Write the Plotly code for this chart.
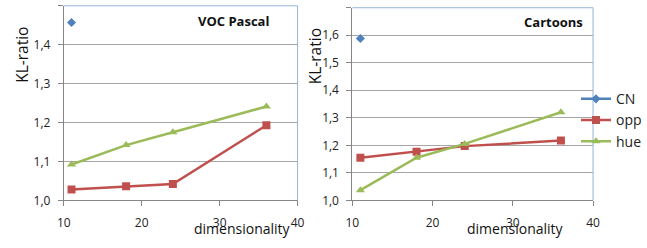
import plotly.graph_objects as go

dims = [11, 18, 24, 36]
cn_dim = [11]

voc_cn = [1.457]
voc_opp = [1.028, 1.036, 1.042, 1.193]
voc_hue = [1.092, 1.142, 1.175, 1.241]

cart_cn = [1.588]
cart_opp = [1.155, 1.177, 1.197, 1.217]
cart_hue = [1.037, 1.155, 1.205, 1.320]

x_ticks = [10, 20, 30, 40]
voc_yticks = [1.0, 1.1, 1.2, 1.3, 1.4, 1.5]
cart_yticks = [1.0, 1.1, 1.2, 1.3, 1.4, 1.5, 1.6, 1.7]

C_CN = "#4F81BD"
C_OPP = "#C0504D"
C_HUE = "#9BBB59"
FONT = "Open Sans"
W, H = 647, 248

fig = go.Figure()

def add_series(xa, ya, cn, opp, hue, show):
    fig.add_trace(go.Scatter(x=cn_dim, y=cn, name="CN", mode="lines+markers",
                             line=dict(color=C_CN, width=2.5),
                             marker=dict(symbol="diamond", size=7, color=C_CN),
                             xaxis=xa, yaxis=ya, showlegend=show))
    fig.add_trace(go.Scatter(x=dims, y=opp, name="opp", mode="lines+markers",
                             line=dict(color=C_OPP, width=2.5),
                             marker=dict(symbol="square", size=8, color=C_OPP),
                             xaxis=xa, yaxis=ya, showlegend=show))
    fig.add_trace(go.Scatter(x=dims, y=hue, name="hue", mode="lines+markers",
                             line=dict(color=C_HUE, width=2.5),
                             marker=dict(symbol="triangle-up", size=8, color=C_HUE),
                             xaxis=xa, yaxis=ya, showlegend=show))

add_series("x", "y", voc_cn, voc_opp, voc_hue, False)
add_series("x2", "y2", cart_cn, cart_opp, cart_hue, True)

axis_common = dict(showline=True, linecolor="#868686", linewidth=1,
                   ticks="outside", ticklen=5, tickcolor="#868686",
                   tickfont=dict(family=FONT, size=12, color="#222"),
                   zeroline=False)

fig.update_layout(
    width=W, height=H, margin=dict(l=0, r=0, t=0, b=0),
    paper_bgcolor="white", plot_bgcolor="white",
    separators=",.",
    xaxis=dict(domain=[58 / W, 297 / W], range=[10, 40], tickvals=x_ticks,
               showgrid=False, anchor="y", ticklabelstandoff=6, **axis_common),
    yaxis=dict(domain=[1 - 207 / H, 1 - 6 / H], range=[1.0, 1.5], tickvals=voc_yticks,
               tickformat=".1f", showgrid=True, gridcolor="#A6A6A6", gridwidth=1,
               anchor="x", ticklabelstandoff=5, **axis_common),
    xaxis2=dict(domain=[353 / W, 599 / W], range=[10, 40], tickvals=x_ticks,
                showgrid=False, anchor="y2", ticklabelstandoff=6, **axis_common),
    yaxis2=dict(domain=[1 - 207 / H, 1 - 8 / H], range=[1.0, 1.7], tickvals=cart_yticks,
                tickformat=".1f", showgrid=True, gridcolor="#A6A6A6", gridwidth=1,
                anchor="x2", ticklabelstandoff=5, **axis_common),
    legend=dict(x=582 / W, y=1 - 86 / H, xanchor="left", yanchor="top",
                font=dict(family=FONT, size=14, color="#222"),
                bgcolor="rgba(0,0,0,0)", itemwidth=30, tracegroupgap=0),
    showlegend=True,
)

# plot-area border (top & right) in light blue
for xd, yd in (("x domain", "y domain"), ("x2 domain", "y2 domain")):
    fig.add_shape(type="line", xref=xd, yref=yd, x0=0, x1=1, y0=1, y1=1,
                  line=dict(color="#95B3D7", width=1))
    fig.add_shape(type="line", xref=xd, yref=yd, x0=1, x1=1, y0=0, y1=1,
                  line=dict(color="#95B3D7", width=1))

annos = [
    dict(text="<b>VOC Pascal</b>", x=232 / W, y=1 - 22 / H, size=13, angle=0),
    dict(text="<b>Cartoons</b>", x=559 / W, y=1 - 23 / H, size=13, angle=0),
    dict(text="KL-ratio", x=15 / W, y=1 - 57 / H, size=15.5, angle=-90),
    dict(text="KL-ratio", x=315 / W, y=1 - 58 / H, size=15.5, angle=-90),
    dict(text="dimensionality", x=241 / W, y=1 - 236 / H, size=14, angle=0),
    dict(text="dimensionality", x=520 / W, y=1 - 236 / H, size=14, angle=0),
]
for a in annos:
    fig.add_annotation(text=a["text"], x=a["x"], y=a["y"], xref="paper", yref="paper",
                       xanchor="center", yanchor="middle", showarrow=False,
                       textangle=a["angle"],
                       font=dict(family=FONT, size=a["size"], color="#111"))

fig.write_html(
    "out.html",
    config={"displayModeBar": False},
    post_script="document.body.style.margin='0';document.body.style.overflow='hidden';"
                "document.documentElement.style.overflow='hidden';",
)
